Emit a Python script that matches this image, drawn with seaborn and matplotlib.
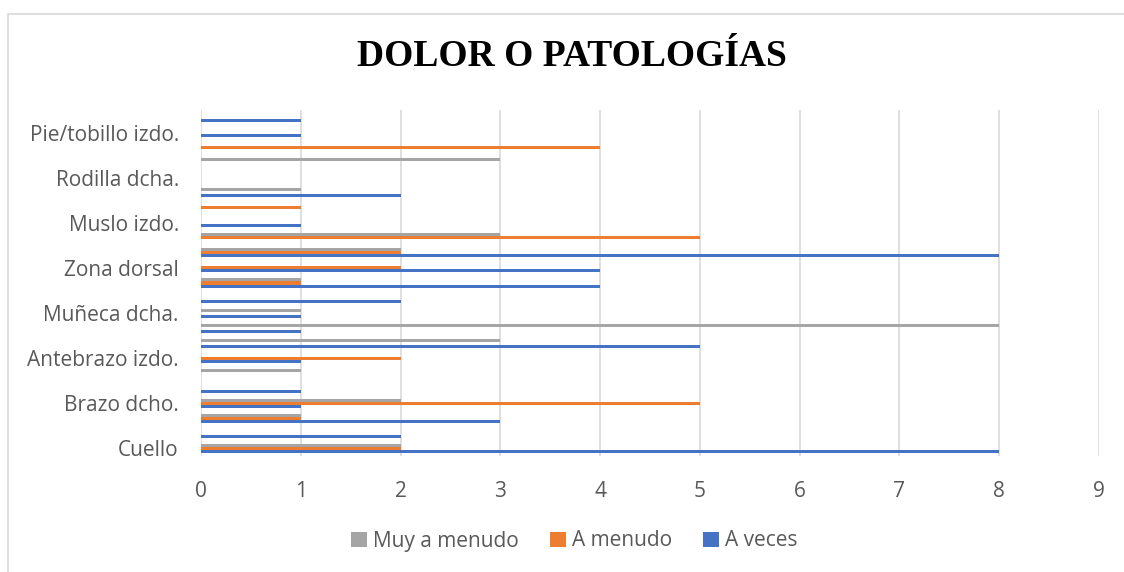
import numpy
import pandas
import seaborn
import matplotlib.pyplot as plt
from matplotlib.patches import Rectangle, Patch

# categories from bottom (Cuello) to top; only every third label is shown
categories = [
    "Cuello", "Hombro dcho.", "Hombro izdo.", "Brazo dcho.", "Brazo izdo.",
    "Antebrazo dcho.", "Antebrazo izdo.", "Codo dcho.", "Codo izdo.",
    "Muñeca dcha.", "Muñeca izda.", "Zona lumbar", "Zona dorsal", "Cadera",
    "Muslo dcho.", "Muslo izdo.", "Glúteos", "Rodilla izda.", "Rodilla dcha.",
    "Gemelos", "Pie/tobillo dcho.", "Pie/tobillo izdo.", "Mano",
]
a_veces = [8, 2, 3, 1, 1, 0, 1, 5, 1, 1, 2, 4, 4, 8, 0, 1, 0, 2, 0, 0, 0, 1, 1]
a_menudo = [2, 0, 1, 5, 0, 0, 2, 0, 0, 0, 0, 1, 2, 2, 5, 0, 1, 0, 0, 0, 4, 0, 0]
muy_a_menudo = [2, 0, 1, 2, 0, 1, 0, 3, 8, 1, 0, 1, 0, 2, 3, 0, 0, 1, 0, 3, 0, 0, 0]

series = ["Muy a menudo", "A menudo", "A veces"]
palette = {"Muy a menudo": "#A5A5A5", "A menudo": "#ED7D31", "A veces": "#4472C4"}

rows = []
for i, cat in enumerate(categories):
    rows.append([cat, "Muy a menudo", muy_a_menudo[i]])
    rows.append([cat, "A menudo", a_menudo[i]])
    rows.append([cat, "A veces", a_veces[i]])
df = pandas.DataFrame(rows, columns=["zona", "frecuencia", "valor"])

plt.rcParams["font.family"] = ["Open Sans", "DejaVu Sans"]
text_color = "#595959"

fig = plt.figure(figsize=(11.24, 5.72), dpi=100)
ax = fig.add_axes([201 / 1124, 1 - 456 / 572, 898 / 1124, 346 / 572])

order = categories[::-1]
seaborn.barplot(data=df, x="valor", y="zona", hue="frecuencia", order=order,
                hue_order=series, palette=palette, orient="h", width=0.6,
                saturation=1, linewidth=0, ax=ax, legend=False)

ax.set_xlim(0, 9)
ax.set_xticks(range(0, 10))
ax.grid(axis="x", color="#D9D9D9", linewidth=1.2)
ax.set_axisbelow(True)
for s in ax.spines.values():
    s.set_visible(False)

shown = [j for j, c in enumerate(order) if categories.index(c) % 3 == 0]
ax.set_yticks(shown)
ax.set_yticklabels([order[j] for j in shown])
ax.tick_params(axis="both", length=0, labelsize=15, labelcolor=text_color)
ax.tick_params(axis="y", pad=16)
ax.tick_params(axis="x", pad=18)
ax.set_xlabel("")
ax.set_ylabel("")

fig.text(0.509, 1 - 56 / 572, "DOLOR O PATOLOGÍAS", ha="center", va="center",
         fontsize=27, fontweight="bold", family="Liberation Serif", color="black")

handles = [Patch(facecolor=palette[s], edgecolor="none") for s in series]
fig.legend(handles, series, loc="center", bbox_to_anchor=(0.511, 1 - 541 / 572),
           ncol=3, frameon=False, fontsize=15, labelcolor=text_color,
           handlelength=0.75, handleheight=0.75, handletextpad=0.3, columnspacing=1.5)

fig.patches.append(Rectangle((8 / 1124, -0.05), 1.1, 1 - 14 / 572 + 0.05,
                             transform=fig.transFigure, fill=False,
                             edgecolor="#D9D9D9", linewidth=1.2))

fig.savefig("out.png", dpi=100)
